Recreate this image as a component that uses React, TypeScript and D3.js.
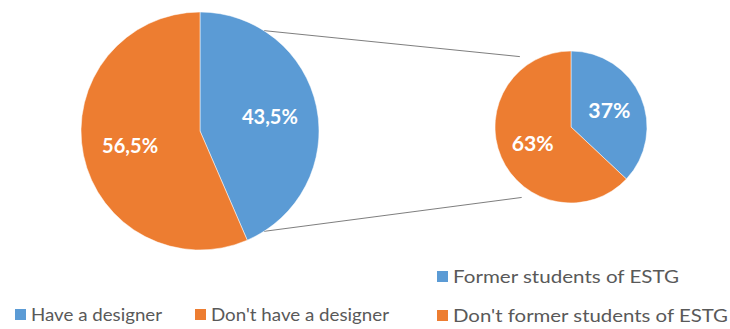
import React from "react";
import * as d3 from "d3";

const mainCategories = ["Have a designer", "Don't have a designer"];
const mainValues = [43.5, 56.5];
const mainLabels = ["43,5%", "56,5%"];

const subCategories = ["Former students of ESTG", "Don't former students of ESTG"];
const subValues = [37, 63];
const subLabels = ["37%", "63%"];

const colors = ["#5B9BD5", "#ED7D31"];

const W = 730;
const H = 329;

const big = { cx: 200, cy: 131, r: 119, labelR: 0.6 };
const small = { cx: 571, cy: 127, r: 76, labelR: 0.55 };

const pieGen = d3.pie<number>().sort(null).value((d) => d);

function polar(cx: number, cy: number, r: number, a: number): [number, number] {
  return [cx + r * Math.sin(a), cy - r * Math.cos(a)];
}

const deg = (x: number) => (x * Math.PI) / 180;

const labelWidths: Record<string, number> = {
  "43,5%": 56,
  "56,5%": 56,
  "37%": 42,
  "63%": 42,
};
const legendWidths: Record<string, number> = {
  "Have a designer": 131,
  "Don't have a designer": 178,
  "Former students of ESTG": 226,
  "Don't former students of ESTG": 275,
};

function Pie({ cfg, values, labels }: { cfg: typeof big; values: number[]; labels: string[] }) {
  const arcs = pieGen(values);
  const arcGen = d3.arc<d3.PieArcDatum<number>>().innerRadius(0).outerRadius(cfg.r);
  return (
    <g transform={`translate(${cfg.cx},${cfg.cy})`}>
      {arcs.map((a, i) => (
        <path key={i} d={arcGen(a) || ""} fill={colors[i]} stroke="#ffffff" strokeWidth={0.5} />
      ))}
      {arcs.map((a, i) => {
        const mid = (a.startAngle + a.endAngle) / 2;
        const [x, y] = polar(0, 0, cfg.r * cfg.labelR, mid);
        return (
          <text
            key={"l" + i}
            x={x}
            y={y}
            dy="0.35em"
            textAnchor="middle"
            fill="#ffffff"
            fontFamily="Lato, 'Open Sans', sans-serif"
            fontWeight={700}
            fontSize={21}
            textLength={labelWidths[labels[i]]}
            lengthAdjust="spacingAndGlyphs"
          >
            {labels[i]}
          </text>
        );
      })}
    </g>
  );
}

export default function App() {
  const upperA = polar(big.cx, big.cy, big.r, deg(32.5));
  const lowerA = polar(big.cx, big.cy, big.r, deg(147.5));
  const upperB = polar(small.cx, small.cy, small.r + 11, deg(-36));
  const lowerB = polar(small.cx, small.cy, small.r + 10, deg(-145));

  const legendFont = {
    fontFamily: "Lato, 'Open Sans', sans-serif",
    fontSize: 18,
    fill: "#595959",
  } as const;

  const leftLegend = mainCategories.map((c, i) => ({ c, color: colors[i], sx: i === 0 ? 15 : 195, y: 321 }));
  const rightLegend = subCategories.map((c, i) => ({ c, color: colors[i], sx: 437, y: i === 0 ? 283 : 322 }));

  return (
    <svg width={W} height={H} style={{ position: "absolute", left: 0, top: 0, background: "#fff" }}>
      <rect width={W} height={H} fill="#ffffff" />
      <line x1={upperA[0]} y1={upperA[1]} x2={upperB[0]} y2={upperB[1]} stroke="#6f6f6f" strokeWidth={0.9} />
      <line x1={lowerA[0]} y1={lowerA[1]} x2={lowerB[0]} y2={lowerB[1]} stroke="#6f6f6f" strokeWidth={0.9} />
      <Pie cfg={big} values={mainValues} labels={mainLabels} />
      <Pie cfg={small} values={subValues} labels={subLabels} />
      {[...leftLegend, ...rightLegend].map((l, i) => (
        <g key={i}>
          <rect x={l.sx} y={l.y - 12} width={11} height={11} fill={l.color} />
          <text x={l.sx + 16} y={l.y} {...legendFont} textLength={legendWidths[l.c]} lengthAdjust="spacingAndGlyphs">
            {l.c}
          </text>
        </g>
      ))}
    </svg>
  );
}
